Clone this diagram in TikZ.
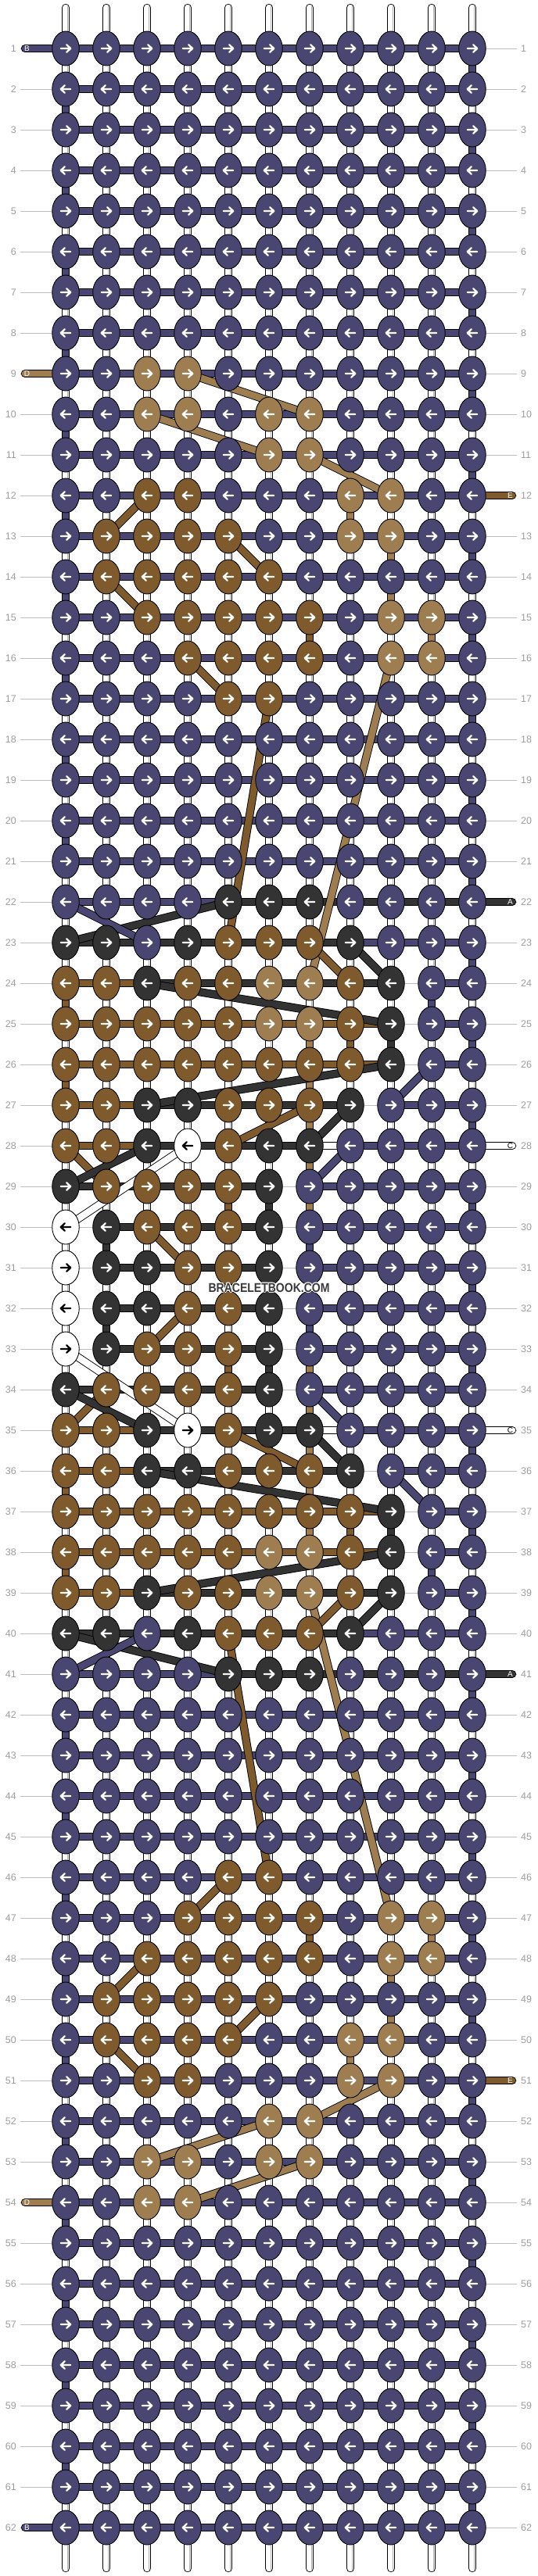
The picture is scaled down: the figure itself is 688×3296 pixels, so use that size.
\documentclass[tikz,border=0pt]{standalone}
\usepackage{fontspec}
\setmainfont{Liberation Sans}
\usetikzlibrary{shapes.geometric,calc}
\definecolor{cP}{HTML}{4A4672}
\definecolor{cB}{HTML}{7F5A2C}
\definecolor{cT}{HTML}{9E7E50}
\definecolor{cK}{HTML}{333333}
\definecolor{cW}{HTML}{FFFFFF}
\definecolor{wmtext}{HTML}{3A3A3A}
\colorlet{aP}{white}\colorlet{aB}{white}\colorlet{aT}{white}\colorlet{aK}{white}\colorlet{aW}{black}
\colorlet{tP}{white}\colorlet{tB}{white}\colorlet{tT}{white}\colorlet{tK}{white}\colorlet{tW}{black}
\pgfdeclarelayer{guide}\pgfdeclarelayer{warp}\pgfdeclarelayer{vert}\pgfdeclarelayer{horiz}\pgfdeclarelayer{diag}
\pgfsetlayers{guide,warp,vert,horiz,diag,main}
\def\rowdata{
 1/{P,P,P,P,P,P,P,P,P,P,P}/{P,P,P,P,P,P,P,P,P,P},
 2/{P,P,P,P,P,P,P,P,P,P,P}/{P,P,P,P,P,P,P,P,P,P},
 3/{P,P,P,P,P,P,P,P,P,P,P}/{P,P,P,P,P,P,P,P,P,P},
 4/{P,P,P,P,P,P,P,P,P,P,P}/{P,P,P,P,P,P,P,P,P,P},
 5/{P,P,P,P,P,P,P,P,P,P,P}/{P,P,P,P,P,P,P,P,P,P},
 6/{P,P,P,P,P,P,P,P,P,P,P}/{P,P,P,P,P,P,P,P,P,P},
 7/{P,P,P,P,P,P,P,P,P,P,P}/{P,P,P,P,P,P,P,P,P,P},
 8/{P,P,P,P,P,P,P,P,P,P,P}/{P,P,P,P,P,P,P,P,P,P},
 9/{P,P,T,T,P,P,P,P,P,P,P}/{P,P,P,P,P,P,P,P,P,P},
 10/{P,P,T,T,P,T,T,P,P,P,P}/{P,P,P,P,P,P,P,P,P,P},
 11/{P,P,P,P,P,T,T,P,P,P,P}/{P,P,P,P,P,P,P,P,P,P},
 12/{P,P,B,B,P,P,P,T,T,P,P}/{P,P,P,P,P,P,P,P,P,P},
 13/{P,B,B,B,B,P,P,T,T,P,P}/{P,P,P,P,P,P,P,P,P,P},
 14/{P,B,B,B,B,B,P,P,P,P,P}/{P,P,P,P,P,P,P,P,P,P},
 15/{P,P,B,B,B,B,B,P,T,T,P}/{P,P,P,P,P,P,P,P,P,P},
 16/{P,P,P,B,B,B,B,P,T,T,P}/{P,P,P,P,P,P,P,P,P,P},
 17/{P,P,P,P,B,B,P,P,P,P,P}/{P,P,P,P,P,P,P,P,P,P},
 18/{P,P,P,P,P,P,P,P,P,P,P}/{P,P,P,P,P,P,P,P,P,P},
 19/{P,P,P,P,P,P,P,P,P,P,P}/{P,P,P,P,P,P,P,P,P,P},
 20/{P,P,P,P,P,P,P,P,P,P,P}/{P,P,P,P,P,P,P,P,P,P},
 21/{P,P,P,P,P,P,P,P,P,P,P}/{P,P,P,P,P,P,P,P,P,P},
 22/{P,P,P,P,K,K,K,P,P,P,P}/{P,P,P,P,K,K,K,K,K,K},
 23/{K,K,P,K,B,B,B,K,P,P,P}/{K,K,K,K,K,K,K,P,P,P},
 24/{B,B,K,B,B,T,T,B,K,P,P}/{B,B,K,K,K,K,K,K,N,P},
 25/{B,B,B,B,B,T,T,B,K,P,P}/{B,B,B,B,B,B,B,B,N,P},
 26/{B,B,B,B,B,B,B,B,K,P,P}/{B,B,B,B,B,B,B,B,N,P},
 27/{B,B,K,K,B,B,B,K,P,P,P}/{B,B,K,K,K,K,K,N,P,P},
 28/{B,B,K,W,B,K,K,P,P,P,P}/{B,B,K,K,K,K,W,P,P,P},
 29/{K,B,B,B,B,K,P,P,P,P,P}/{K,K,K,K,K,N,P,P,P,P},
 30/{W,K,B,B,B,K,P,P,P,P,P}/{N,K,K,K,K,N,P,P,P,P},
 31/{W,K,K,B,B,K,P,P,P,P,P}/{N,K,K,K,K,N,P,P,P,P}}
\begin{document}
\begin{tikzpicture}[x=1pt,y=-1pt,
  knot/.style={ellipse, minimum width=34.5pt, minimum height=44pt, inner sep=0pt, draw=black, line width=0.9pt},
  thr/.style={draw=black, line width=0.9pt, double=#1, double distance=8.6pt},
  arr/.style={line width=2.3pt, line cap=round, line join=round},
  lab/.style={text=black!38, font=\fontsize{12.5}{12.5}\selectfont, inner sep=0pt},
  capl/.style={font=\fontsize{10}{10}\selectfont, inner sep=0pt},
  guideline/.style={draw=black!25, line width=0.8pt},
  wmark/.style={font=\bfseries\fontsize{16.3}{16.3}\selectfont, xscale=0.86, inner sep=0pt}
]
\useasboundingbox (0,0) rectangle (688,3296);
% knots and labels (main layer)
\foreach \r/\cols/\gaps in \rowdata {
  \pgfmathtruncatemacro\rr{63-\r}
  \foreach \ri in {\r,\rr}{
    \pgfmathsetmacro\d{1-2*mod(\ri+1,2)}
    \pgfmathsetmacro\Y{10+52*\ri}
    \node[lab, anchor=east] (ll-\ri) at (21,\Y) {\ri};
    \node[lab, anchor=west] (lr-\ri) at (666,\Y) {\ri};
    \foreach \kc [count=\c] in \cols {
      \pgfmathsetmacro\X{32+52*\c}
      \node[knot, fill=c\kc] (k-\ri-\c) at (\X,\Y) {};
      \draw[arr, a\kc] ({\X-6.2*\d},\Y) -- ({\X+6.2*\d},\Y)
        ({\X+1.2*\d},{\Y-4.8}) -- ({\X+6.2*\d},\Y) -- ({\X+1.2*\d},{\Y+4.8});
    }
  }
}
% background and guide lines
\begin{pgfonlayer}{guide}
\fill[white] (0,0) rectangle (688,3296);
\foreach \ri in {1,...,62}{
  \draw[guideline] ($(ll-\ri.east)+(5,0)$) -- ($(lr-\ri.west)+(-5,0)$);
}
\end{pgfonlayer}
% warp strings
\begin{pgfonlayer}{warp}
\foreach \c in {1,...,11}{
  \draw[thr=white, line cap=round] ({32+52*\c},10) -- ({32+52*\c},3286);
  \draw[black!30, line width=0.6pt] ({34.3+52*\c},8) -- ({34.3+52*\c},3288);
}
\end{pgfonlayer}
% horizontal row connectors and string ends
\begin{pgfonlayer}{horiz}
\foreach \r/\cols/\gaps in \rowdata {
  \pgfmathtruncatemacro\rr{63-\r}
  \foreach \ri in {\r,\rr}{
    \foreach \g [count=\c] in \gaps {
      \pgfmathtruncatemacro\cn{\c+1}
      \if\g N\else
        \draw[thr=c\g] (k-\ri-\c.center) -- (k-\ri-\cn.center);
      \fi
    }
  }
}
\foreach \r/\sd/\kc/\lett in {1/L/P/B,9/L/T/D,12/R/B/E,22/R/K/A,28/R/W/C}{
  \pgfmathtruncatemacro\rr{63-\r}
  \foreach \ri in {\r,\rr}{
    \pgfmathsetmacro\Y{10+52*\ri}
    \if\sd L
      \coordinate (cap-\ri) at (32,\Y);
      \draw[thr=c\kc, line cap=round] (cap-\ri) -- (k-\ri-1.center);
      \node[capl, text=t\kc] (capt-\ri) at (34.5,\Y) {\lett};
    \else
      \coordinate (cap-\ri) at (655,\Y);
      \draw[thr=c\kc, line cap=round] (k-\ri-11.center) -- (cap-\ri);
      \node[capl, text=t\kc] (capt-\ri) at (652.5,\Y) {\lett};
    \fi
  }
}
\end{pgfonlayer}
% vertical segments
\begin{pgfonlayer}{vert}
\foreach \r in {1,...,21}{
  \pgfmathtruncatemacro\c{1+10*mod(\r,2)}
  \pgfmathtruncatemacro\rn{\r+1}
  \pgfmathtruncatemacro\ma{62-\r}
  \pgfmathtruncatemacro\mb{63-\r}
  \draw[thr=cP] (k-\r-\c.center) -- (k-\rn-\c.center);
  \draw[thr=cP] (k-\ma-\c.center) -- (k-\mb-\c.center);
}
\foreach \r/\c/\kc in {25/7/T,26/7/T,27/7/T,28/7/T,29/7/T,
  23/11/P,24/10/P,25/11/P,27/11/P,29/11/P,30/7/P,31/11/P,
  12/8/T,13/9/T,14/9/T,15/10/T,15/7/B,
  24/1/B,25/8/B,25/9/K,26/1/B,29/5/B,29/6/K,30/2/K}{
  \pgfmathtruncatemacro\rn{\r+1}
  \pgfmathtruncatemacro\ma{62-\r}
  \pgfmathtruncatemacro\mb{63-\r}
  \draw[thr=c\kc] (k-\r-\c.center) -- (k-\rn-\c.center);
  \draw[thr=c\kc] (k-\ma-\c.center) -- (k-\mb-\c.center);
}
\end{pgfonlayer}
% diagonal carried strings
\begin{pgfonlayer}{diag}
\foreach \ra/\ca/\rb/\cb/\kc in {9/4/10/7/T,10/3/11/6/T,11/7/12/9/T,16/9/24/7/T,
  12/3/13/2/B,13/5/14/6/B,14/2/15/3/B,16/4/17/5/B,17/6/23/5/B,23/7/24/8/B,27/7/28/5/B,28/1/29/2/B,30/3/31/4/B,
  22/5/23/1/K,23/8/24/9/K,24/3/25/9/K,26/9/27/3/K,27/8/28/7/K,28/3/29/1/K,
  22/1/23/3/P,26/10/27/9/P,28/8/29/7/P,
  28/4/30/1/W}{
  \pgfmathtruncatemacro\ma{63-\ra}
  \pgfmathtruncatemacro\mb{63-\rb}
  \draw[thr=c\kc] (k-\ra-\ca.center) -- (k-\rb-\cb.center);
  \draw[thr=c\kc] (k-\ma-\ca.center) -- (k-\mb-\cb.center);
}
\end{pgfonlayer}
% watermark with light halo
\foreach \dx/\dy [count=\i] in {-1.1/0,1.1/0,0/-1.1,0/1.1,-0.8/-0.8,0.8/0.8,-0.8/0.8,0.8/-0.8}{
  \node[wmark, text=white] (wmh\i) at ({344+\dx},{1647.5+\dy}) {BRACELETBOOK.COM};
}
\node[wmark, text=wmtext] (wm) at (344,1647.5) {BRACELETBOOK.COM};
\end{tikzpicture}
\end{document}
